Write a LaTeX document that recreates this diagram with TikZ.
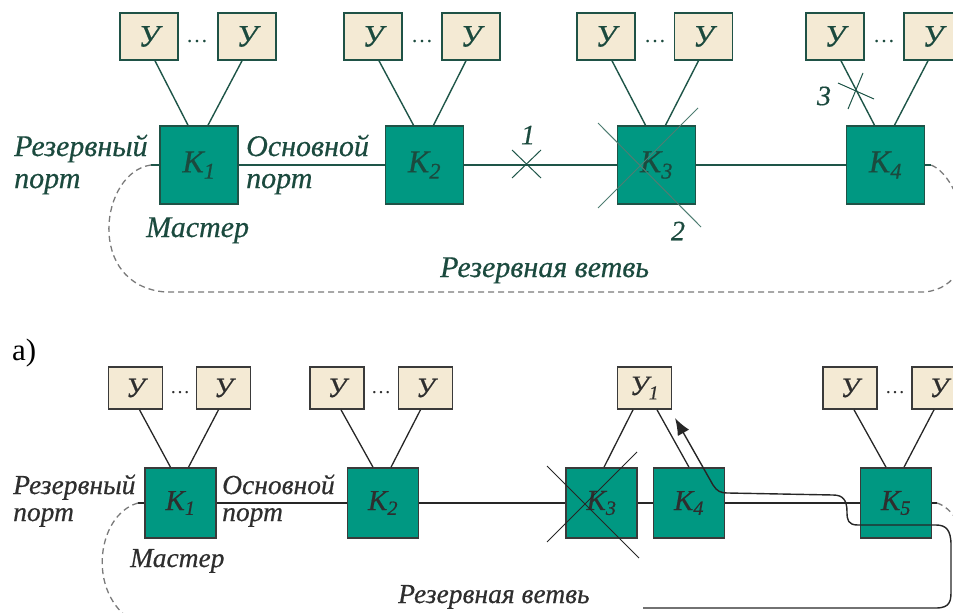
\documentclass[tikz,border=0pt]{standalone}
\usepackage{fontspec}
\setmainfont{Liberation Serif}
\newfontfamily\labfont{Liberation Serif Italic}[FakeBold=0.5]
\usetikzlibrary{arrows.meta}
\definecolor{teal}{HTML}{009882}
\definecolor{ybeige}{HTML}{F4EAD4}
\definecolor{edgeA}{HTML}{1F5246}
\definecolor{txtA}{HTML}{1B4A3E}
\definecolor{lineA}{HTML}{1E5548}
\definecolor{crossA}{HTML}{4E7D72}
\definecolor{edgeB}{HTML}{3A3A3A}
\definecolor{txtB}{HTML}{2E2E2E}
\definecolor{lineB}{HTML}{262626}
\definecolor{dashgray}{HTML}{7A7A7A}
\begin{document}
\begin{tikzpicture}[x=1pt,y=-1pt,
  ubox/.style={fill=ybeige, line width=1.6pt, inner sep=0pt},
  kbox/.style={fill=teal, line width=1.6pt, inner sep=0pt},
  uA/.style={ubox, draw=edgeA, text=txtA, minimum width=58pt, minimum height=47pt,
    font=\labfont\fontsize{31}{31}\selectfont},
  uB/.style={ubox, draw=edgeB, text=txtB, minimum width=54pt, minimum height=42pt,
    font=\labfont\fontsize{28}{28}\selectfont},
  kA/.style={kbox, draw=edgeA, text=txtA, minimum width=78pt, minimum height=78pt,
    font=\labfont\fontsize{32}{32}\selectfont},
  kB/.style={kbox, draw=edgeB, text=txtB, minimum width=71pt, minimum height=70pt,
    font=\labfont\fontsize{29}{29}\selectfont},
  lblA/.style={text=txtA, inner sep=0pt, anchor=base west, font=\labfont\fontsize{30}{30}\selectfont},
  lblB/.style={text=txtB, inner sep=0pt, anchor=base west, font=\labfont\fontsize{27.5}{27.5}\selectfont},
  numA/.style={text=txtA, inner sep=0pt, font=\labfont\fontsize{28}{28}\selectfont},
  dotsA/.style={text=txtA, inner sep=0pt, anchor=base, font=\fontsize{22}{22}\selectfont},
  dotsB/.style={text=txtB, inner sep=0pt, anchor=base, font=\fontsize{20}{20}\selectfont},
  linkA/.style={draw=lineA, line width=1.4pt},
  linkB/.style={draw=lineB, line width=1.3pt},
  reserve/.style={draw=dashgray, line width=1.3pt, dash pattern=on 6pt off 4pt},
  crossmark/.style={line width=1pt},
]
\path[use as bounding box, clip] (0,0) rectangle (953,613);

% ---------------- upper ring ----------------
\node[kA] (a1) at (199,165) {K\textsubscript{1}};
\node[kA] (a2) at (424.5,165) {K\textsubscript{2}};
\node[kA] (a3) at (656.5,165) {K\textsubscript{3}};
\node[kA] (a4) at (885.5,165) {K\textsubscript{4}};

\node[uA] (a1l) at (149,36.5) {У};
\node[uA] (a1r) at (247,36.5) {У};
\node[uA] (a2l) at (373,36.5) {У};
\node[uA] (a2r) at (471,36.5) {У};
\node[uA] (a3l) at (606,36.5) {У};
\node[uA] (a3r) at (703.5,36.5) {У};
\node[uA] (a4l) at (835,36.5) {У};
\node[uA] (a4r) at (933,36.5) {У};

\node[dotsA] (ad1) at (197,42) {\dots};
\node[dotsA] (ad2) at (422,42) {\dots};
\node[dotsA] (ad3) at (655,42) {\dots};
\node[dotsA] (ad4) at (884,42) {\dots};

\foreach \k in {1,2,3,4}{
  \draw[linkA] ([xshift=6pt]a\k l.south) -- ([xshift=-11pt]a\k.north);
  \draw[linkA] ([xshift=-5pt]a\k r.south) -- ([xshift=9pt]a\k.north);
}

\draw[linkA] (a1) -- (a2);
\draw[linkA] (a2) -- (a3);
\draw[linkA] (a3) -- (a4);

% reserve branch of the upper ring
\coordinate (aL) at (151,165);
\coordinate (aR) at (931,165);
\draw[linkA] (a1.west) -- (aL);
\draw[linkA] (a4.east) -- (aR);
\draw[reserve] (aL) .. controls (100,172) and (85,285) .. (165,292)
  -- (925,292) .. controls (990,285) and (965,178) .. (aR);

% failure marks
\coordinate (f1) at (527,164);
\draw[crossmark, draw=lineA] ([shift={(-15,-14)}]f1) -- ([shift={(14,14)}]f1)
  ([shift={(-15,14)}]f1) -- ([shift={(14,-14)}]f1);
\node[numA] (n1) at (528,135) {1};

\draw[crossmark, draw=crossA] (598,123) -- (701,227) (598,208) -- (698,108);
\node[numA] (n2) at (678,231) {2};

\draw[crossmark, draw=lineA] (838,83) -- (874,99) (863,73) -- (848,109);
\node[numA] (n3) at (824,96) {3};

\node[lblA] (aRes) at (14,156) {Резервный};
\node[lblA] (aResP) at (14,188) {порт};
\node[lblA] (aMain) at (246,156) {Основной};
\node[lblA] (aMainP) at (246,188) {порт};
\node[lblA] (aMaster) at (146,237) {Мастер};
\node[lblA] (aBranch) at (440,277) {Резервная ветвь};

% ---------------- lower ring ----------------
\node[text=black, inner sep=0pt, anchor=base west, font=\fontsize{31}{31}\selectfont] (cap) at (12,360) {а)};

\node[kB] (b1) at (180.5,503) {K\textsubscript{1}};
\node[kB] (b2) at (383,503) {K\textsubscript{2}};
\node[kB] (b3) at (601.5,503) {K\textsubscript{3}};
\node[kB] (b4) at (689,503) {K\textsubscript{4}};
\node[kB] (b5) at (896,503) {K\textsubscript{5}};

\node[uB] (b1l) at (135.5,388) {У};
\node[uB] (b1r) at (223.5,388) {У};
\node[uB] (b2l) at (337,388) {У};
\node[uB] (b2r) at (425.5,388) {У};
\node[uB] (bu1) at (644.5,388) {У\textsubscript{1}};
\node[uB] (b5l) at (850,388) {У};
\node[uB] (b5r) at (939,388) {У};

\node[dotsB] (bd1) at (180,393) {\dots};
\node[dotsB] (bd2) at (381,393) {\dots};
\node[dotsB] (bd5) at (895,393) {\dots};

\foreach \k in {1,2,5}{
  \draw[linkB] ([xshift=4pt]b\k l.south) -- ([xshift=-10pt]b\k.north);
  \draw[linkB] ([xshift=-5pt]b\k r.south) -- ([xshift=8pt]b\k.north);
}
\draw[linkB] ([xshift=-11.5pt]bu1.south) -- ([xshift=2.5pt]b3.north);
\draw[linkB] ([xshift=12.5pt]bu1.south) -- (b4.north);

\draw[linkB] (b1) -- (b2);
\draw[linkB] (b2) -- (b3);
\draw[linkB] (b3) -- (b4);
\draw[linkB] (b4) -- (b5);

\draw[crossmark, draw=lineB] (547,466) -- (639,558) (547,542) -- (637,452);

% reserve branch of the lower ring
\coordinate (bL) at (138,503);
\coordinate (bR) at (937,503);
\draw[linkB] (b1.west) -- (bL);
\draw[linkB] (b5.east) -- (bR);
\draw[reserve] (bL) .. controls (95,515) and (85,600) .. (140,625);
\draw[reserve] (bR) .. controls (975,515) and (990,620) .. (930,625);

% route to У1 around the failed switch
\coordinate (rStart) at (643,608);
\coordinate (rTip) at (675,418);
\draw[linkB, line width=1.4pt, -{Latex[length=17pt,width=13pt]}]
  (rStart) -- (936,608) .. controls (951,608) and (951,600) .. (951,590)
  -- (951,545) .. controls (951,530) and (946,525) .. (936,525)
  -- (858,525) .. controls (848,525) and (847,520) .. (847,512)
  .. controls (847,500) and (843,495) .. (833,495)
  -- (728,493) .. controls (720,493) and (717,491) .. (713,485) -- (rTip);

\node[lblB] (bRes) at (13,494) {Резервный};
\node[lblB] (bResP) at (13,521) {порт};
\node[lblB] (bMain) at (222,494) {Основной};
\node[lblB] (bMainP) at (222,521) {порт};
\node[lblB] (bMaster) at (130,567) {Мастер};
\node[lblB] (bBranch) at (398,603) {Резервная ветвь};
\end{tikzpicture}
\end{document}
